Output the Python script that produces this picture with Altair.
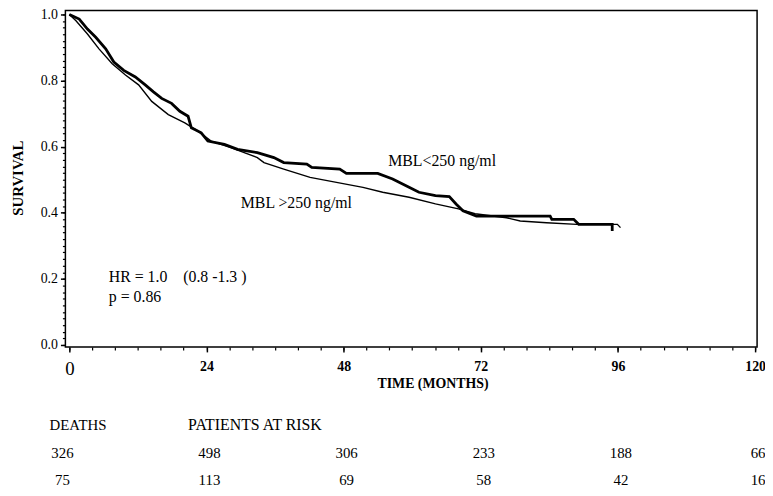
import altair as alt
import pandas as pd

# ---- survival curves (months, survival) ----
low_t = [0, 1.73, 3.17, 4.62, 6.36, 7.79, 9.52, 11.55, 13.28, 14.72, 16.16, 17.89, 19.34,
         20.78, 21.35, 23.08, 24.24, 27.13, 29.44, 32.9, 35.79, 37.52, 41.56, 42.42, 47.32,
         48.48, 53.97, 56.57, 59.45, 61.18, 64.07, 66.49, 67.71, 68.88, 71.24, 84.14, 84.43,
         88.26, 89.13, 95.0, 95.0]
low_s = [1.0, 0.986, 0.956, 0.931, 0.896, 0.856, 0.831, 0.811, 0.787, 0.766, 0.746, 0.731, 0.707,
         0.692, 0.657, 0.642, 0.617, 0.607, 0.592, 0.582, 0.567, 0.552, 0.547, 0.537, 0.532,
         0.519, 0.519, 0.502, 0.477, 0.462, 0.452, 0.449, 0.426, 0.406, 0.390, 0.390, 0.380,
         0.380, 0.365, 0.365, 0.345]

high_t = [0, 1.16, 3.17, 5.19, 7.5, 9.82, 12.12, 14.42, 17.32, 20.21, 22.51, 24.81, 28.28,
          30.6, 32.9, 34.06, 37.52, 42.13, 46.75, 51.38, 54.84, 59.45, 64.07, 68.1, 71.0,
          76.5, 78.9, 83.5, 88.8, 95.9, 96.45]
high_s = [1.0, 0.981, 0.941, 0.896, 0.851, 0.817, 0.787, 0.737, 0.697, 0.672, 0.647, 0.617, 0.597,
          0.582, 0.567, 0.552, 0.532, 0.507, 0.492, 0.477, 0.462, 0.447, 0.427, 0.412, 0.397,
          0.385, 0.375, 0.370, 0.365, 0.365, 0.355]

# ---- axes ----
x_ticks = [0, 24, 48, 72, 96, 120]
y_ticks = [0.0, 0.2, 0.4, 0.6, 0.8, 1.0]
x_minor = list(range(0, 121, 4))
y_minor = [round(i * 0.02, 2) for i in range(51)]

# ---- annotations ----
ann_text = ["MBL<250 ng/ml", "MBL >250 ng/ml", "HR = 1.0\u00a0\u00a0\u00a0\u00a0(0.8 -1.3 )", "p = 0.86"]
ann_t = [55.8, 30.0, 6.9, 6.9]
ann_s = [0.557, 0.428, 0.204, 0.144]

# ---- table below ----
deaths = [326, 75]
risk_times = [24, 48, 72, 96, 120]
risk_row1 = [498, 306, 233, 188, 66]
risk_row2 = [113, 69, 58, 42, 16]

FONT = "Liberation Serif"

low_df = pd.DataFrame({"t": low_t, "s": low_s})
high_df = pd.DataFrame({"t": high_t, "s": high_s})
ann_df = pd.DataFrame({"label": ann_text, "t": ann_t, "s": ann_s})
r1_df = pd.DataFrame({"t": risk_times, "n": risk_row1})
r2_df = pd.DataFrame({"t": risk_times, "n": risk_row2})

xs = alt.Scale(domain=[-0.69, 120.35], nice=False, zero=False)
ys = alt.Scale(domain=[-0.006, 1.012], nice=False, zero=False)

x_major_axis = alt.Axis(
    values=x_ticks, grid=False, domain=False, tickSize=5, tickWidth=1.5, tickColor="black",
    labelFont=FONT, labelColor="black",
    labelFontSize={"condition": {"test": "datum.value === 0", "value": 19}, "value": 14},
    labelFontWeight={"condition": {"test": "datum.value === 0", "value": "normal"}, "value": "bold"},
    labelPadding=8, title="TIME (MONTHS)", titleFont=FONT, titleFontSize=14, titleFontWeight="bold",
    titleColor="black", titleX=371, titleY=30, titleBaseline="top", titleAlign="center",
    orient="bottom")
y_major_axis = alt.Axis(
    values=y_ticks, format=".1f", grid=False, domain=False, tickSize=5, tickWidth=1.5, tickColor="black",
    labelFont=FONT, labelFontSize=14, labelColor="black", labelPadding=3,
    title="SURVIVAL", titleFont=FONT, titleFontSize=15, titleFontWeight="bold", titleColor="black",
    titleX=-48, titleY=169, titleAngle=-90, titleAlign="center", titleBaseline="middle",
    orient="left")

thick = alt.Chart(low_df).mark_line(interpolate="linear", color="black", strokeWidth=2.8).encode(
    x=alt.X("t:Q", scale=xs, axis=x_major_axis),
    y=alt.Y("s:Q", scale=ys, axis=y_major_axis),
)
thin = alt.Chart(high_df).mark_line(interpolate="linear", color="black", strokeWidth=1.4).encode(
    x=alt.X("t:Q", scale=xs, axis=None),
    y=alt.Y("s:Q", scale=ys, axis=None),
)
ann = alt.Chart(ann_df).mark_text(align="left", baseline="middle", font=FONT, fontSize=16,
                                  color="black").encode(
    x=alt.X("t:Q", scale=xs, axis=None),
    y=alt.Y("s:Q", scale=ys, axis=None),
    text="label:N",
)
minor = alt.Chart(low_df).mark_point(opacity=0).encode(
    x=alt.X("t:Q", scale=xs, axis=alt.Axis(values=x_minor, labels=False, domain=False, grid=False,
                                            tickSize=3, tickWidth=1.2, tickColor="black",
                                            title=None, orient="bottom")),
    y=alt.Y("s:Q", scale=ys, axis=alt.Axis(values=y_minor, labels=False, domain=False, grid=False,
                                            tickSize=3, tickWidth=1.2, tickColor="black",
                                            title=None, orient="left")),
)

# table
hdr1 = alt.Chart(pd.DataFrame({"label": ["DEATHS"]})).mark_text(
    align="left", baseline="middle", font=FONT, fontSize=15, color="black").encode(
    x=alt.value(-16), y=alt.value(419), text="label:N")
hdr2 = alt.Chart(pd.DataFrame({"label": ["PATIENTS AT RISK"]})).mark_text(
    align="left", baseline="middle", font=FONT, fontSize=16, color="black").encode(
    x=alt.value(124), y=alt.value(419), text="label:N")
d1 = alt.Chart(pd.DataFrame({"n": [deaths[0]]})).mark_text(
    align="center", baseline="middle", font=FONT, fontSize=15, color="black").encode(
    x=alt.value(-3), y=alt.value(447), text="n:Q")
d2 = alt.Chart(pd.DataFrame({"n": [deaths[1]]})).mark_text(
    align="center", baseline="middle", font=FONT, fontSize=15, color="black").encode(
    x=alt.value(-3), y=alt.value(474), text="n:Q")
r1 = alt.Chart(r1_df).mark_text(align="center", baseline="middle", font=FONT, fontSize=15,
                                color="black", dx=3).encode(
    x=alt.X("t:Q", scale=xs, axis=None), y=alt.value(447), text="n:Q")
r2 = alt.Chart(r2_df).mark_text(align="center", baseline="middle", font=FONT, fontSize=15,
                                color="black", dx=3).encode(
    x=alt.X("t:Q", scale=xs, axis=None), y=alt.value(474), text="n:Q")

chart = alt.layer(thick, thin, ann, hdr1, hdr2, d1, d2, r1, r2, minor).resolve_axis(
    x="independent", y="independent"
).properties(
    width=699, height=340,
    autosize=alt.AutoSizeParams(type="none"),
    padding={"left": 58, "top": 0, "right": 8, "bottom": 140},
    background="white",
).configure_view(stroke="black", strokeWidth=1.5)

chart.save("out.html", embed_options={"renderer": "svg", "actions": False})
